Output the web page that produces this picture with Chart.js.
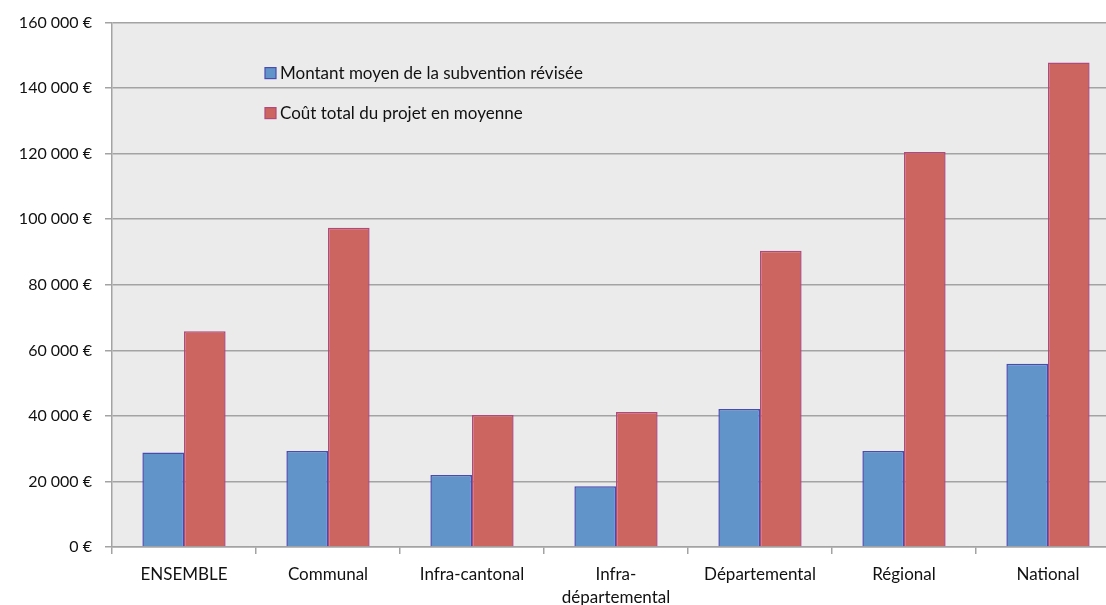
<!DOCTYPE html>
<html>
<head>
<meta charset="utf-8">
<script src="https://cdn.jsdelivr.net/npm/chart.js@4.4.1/dist/chart.umd.min.js"></script>
<style>
  html, body { margin: 0; padding: 0; overflow: hidden; background: #fff; }
  #wrap { width: 1125px; height: 605px; }
</style>
</head>
<body>
<div id="wrap"><canvas id="chart"></canvas></div>
<script>
const categories = ["ENSEMBLE", "Communal", "Infra-cantonal", ["Infra-", "départemental"], "Départemental", "Régional", "National"];
const subvention = [28800, 29300, 22000, 18500, 42100, 29300, 55900];
const coutTotal = [65800, 97400, 40300, 41200, 90400, 120500, 147800];
const seriesNames = ["Montant moyen de la subvention révisée", "Coût total du projet en moyenne"];
const yTicks = [0, 20000, 40000, 60000, 80000, 100000, 120000, 140000, 160000];

const fillBlue = "#6195c9", edgeBlue = "#4a4bb0";
const fillRed = "#cc6460", edgeRed = "#b2487c";
const gridCol = "#a3a3a3";
const fontFam = "Lato, 'Open Sans', sans-serif";

function euro(v) {
  return String(v).replace(/\B(?=(\d{3})+(?!\d))/g, " ") + " €";
}

const plotBg = {
  id: "plotBg",
  beforeDraw(chart) {
    const a = chart.chartArea, c = chart.ctx;
    c.save();
    c.fillStyle = "#ebebeb";
    c.fillRect(a.left, a.top, a.right - a.left, a.bottom - a.top);
    c.restore();
  }
};

// legend drawn inside the plot, as in the original
const innerLegend = {
  id: "innerLegend",
  afterDraw(chart) {
    const a = chart.chartArea, c = chart.ctx;
    const items = [[fillBlue, edgeBlue], [fillRed, edgeRed]];
    c.save();
    c.font = "17px " + fontFam;
    c.textBaseline = "middle";
    items.forEach((it, i) => {
      const x = a.left + 153, y = a.top + 45 + i * 40;
      c.fillStyle = it[0];
      c.fillRect(x, y, 11, 11);
      c.strokeStyle = it[1];
      c.lineWidth = 1.2;
      c.strokeRect(x, y, 11, 11);
      c.fillStyle = "#111";
      c.fillText(seriesNames[i], x + 15, y + 6);
    });
    c.restore();
  }
};

new Chart(document.getElementById("chart"), {
  type: "bar",
  data: {
    labels: categories,
    datasets: [
      { label: seriesNames[0], data: subvention, backgroundColor: fillBlue, borderColor: edgeBlue, borderWidth: 1.5 },
      { label: seriesNames[1], data: coutTotal, backgroundColor: fillRed, borderColor: edgeRed, borderWidth: 1.5 }
    ]
  },
  options: {
    responsive: true,
    maintainAspectRatio: false,
    animation: false,
    categoryPercentage: 0.578,
    barPercentage: 1,
    layout: { padding: { top: 13, right: 5, left: 0, bottom: 0 } },
    plugins: { legend: { display: false }, tooltip: { enabled: false } },
    scales: {
      x: {
        grid: { offset: true, drawOnChartArea: false, drawTicks: true, tickLength: 7, color: gridCol, lineWidth: 1.5 },
        border: { color: gridCol, width: 1.5 },
        ticks: { color: "#111", font: { size: 17, family: fontFam, lineHeight: 1.35 }, padding: 9, maxRotation: 0, autoSkip: false },
        afterFit(s) { s.height = 58; }
      },
      y: {
        min: 0,
        max: 160000,
        afterBuildTicks(s) { s.ticks = yTicks.map(v => ({ value: v })); },
        grid: { color: gridCol, lineWidth: 1.5, tickLength: 7 },
        border: { color: gridCol, width: 1.5 },
        ticks: { color: "#111", font: { size: 16, family: fontFam }, padding: 13, callback: v => euro(v) },
        afterFit(s) { s.width = 112; }
      }
    }
  },
  plugins: [plotBg, innerLegend]
});
</script>
</body>
</html>
